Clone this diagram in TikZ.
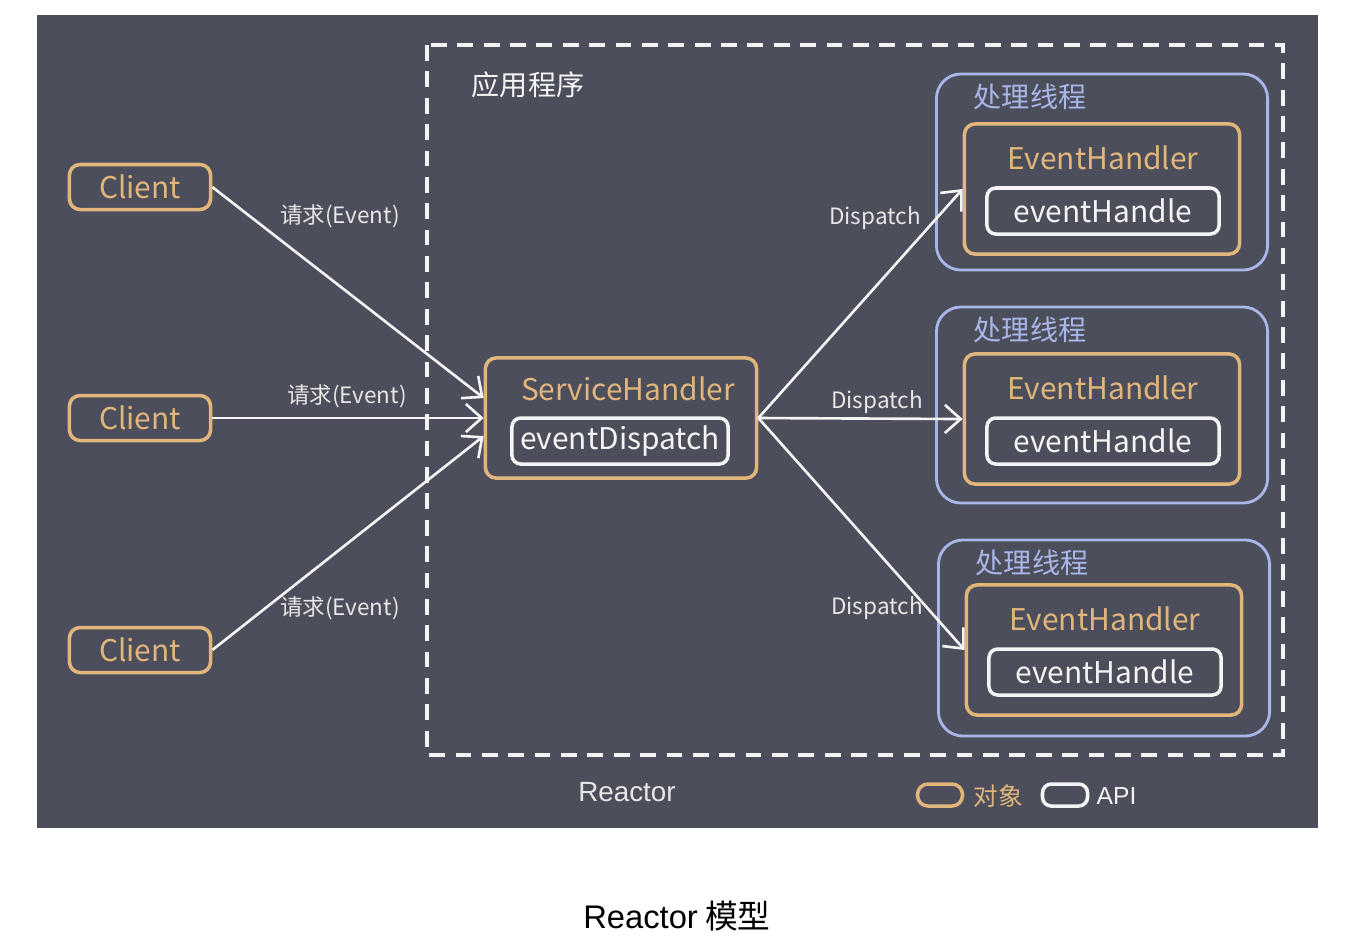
\documentclass[tikz,border=0pt]{standalone}
\usepackage{fontspec}
\setmainfont{Noto Sans CJK SC}
\newfontfamily\arialfont{Liberation Sans}
\usetikzlibrary{arrows.meta}

\definecolor{bgdark}{HTML}{4C4F5B}
\definecolor{objorange}{HTML}{E2B57B}
\definecolor{threadblue}{HTML}{A9B7E8}
\definecolor{apiwhite}{HTML}{F4F4F4}
\definecolor{labelgray}{HTML}{E6E6E6}

\tikzset{
  objbox/.style={draw=objorange, line width=1pt, rounded corners=3pt},
  apibox/.style={draw=apiwhite, line width=1pt, rounded corners=2.5pt},
  threadbox/.style={draw=threadblue, line width=0.8pt, rounded corners=7pt},
  flow/.style={draw=apiwhite, line width=0.75pt, -{Straight Barb[length=4.5pt,width=8pt,line width=0.75pt]}},
  flowlabel/.style={text=labelgray, font=\fontsize{6.4}{7}\selectfont, inner sep=0pt}
}

\begin{document}
\begin{tikzpicture}[x=0.01cm, y=-0.01cm]

\useasboundingbox (0,0) rectangle (1364,950);
\fill[white] (0,0) rectangle (1364,950);
\fill[bgdark] (37,15) rectangle (1318,828);

% Le cadre de l'application
\draw[apiwhite, line width=0.9pt, dash pattern=on 4.5pt off 3pt] (427,45) rectangle (1283,755);
\node[text=apiwhite, font=\fontsize{8}{9}\selectfont] (app) at (528,85) {应用程序};

% Les clients
\foreach \y [count=\ci] in {187,418,650}
\node[objbox, minimum width=1.41cm, minimum height=0.45cm, text=objorange,
      font=\fontsize{8.5}{10}\selectfont, inner sep=0pt] (client\ci) at (140,\y) {Client};

% Le ServiceHandler
\node[objbox, minimum width=2.71cm, minimum height=1.2cm] (sh) at (621,418) {};
\node[text=objorange, font=\fontsize{8.5}{10}\selectfont, inner sep=0pt] (shname) at (628,389) {ServiceHandler};
\node[apibox, minimum width=2.16cm, minimum height=0.46cm, text=apiwhite,
      font=\fontsize{8.5}{10}\selectfont, inner sep=0pt] (dispatch) at (620,441) {eventDispatch};

% Les threads de traitement
\foreach \x/\y/\e/\h [count=\ti] in {1102/172/189/211, 1102/405/419/441, 1104/638/650/672}
{
\node[threadbox, minimum width=3.31cm, minimum height=1.96cm] (thread\ti) at (\x,\y) {};
\node[text=threadblue, font=\fontsize{8}{9}\selectfont, inner sep=0pt] (tname\ti) at (\x-72,\y-75) {处理线程};
\node[objbox, minimum width=2.75cm, minimum height=1.3cm] (eh\ti) at (\x,\e) {};
\node[text=objorange, font=\fontsize{8.5}{10}\selectfont, inner sep=0pt] (ehname\ti) at (\x+1,\e-31) {EventHandler};
\node[apibox, minimum width=2.32cm, minimum height=0.46cm, text=apiwhite,
      font=\fontsize{8.5}{10}\selectfont, inner sep=0pt] (handle\ti) at (\x+1,\h) {eventHandle};
}

% Les requêtes
\draw[flow] (client1.east) -- ([yshift=0.2cm]sh.west);
\draw[flow] (client2.east) -- (sh.west);
\draw[flow] (client3.east) -- ([yshift=-0.18cm]sh.west);
\node[flowlabel] (req1) at (340,216) {请求(Event)};
\node[flowlabel] (req2) at (347,396) {请求(Event)};
\node[flowlabel] (req3) at (340,608) {请求(Event)};

% Les dispatch
\foreach \ti in {1,2,3}
\draw[flow] (sh.east) -- (eh\ti.west);
\node[flowlabel] (disp1) at (875,218) {Dispatch};
\node[flowlabel] (disp2) at (877,402) {Dispatch};
\node[flowlabel] (disp3) at (877,608) {Dispatch};

% La légende
\node[text=labelgray, font=\arialfont\fontsize{7.9}{9}\selectfont, inner sep=0pt] (reactor) at (627,792) {Reactor};
\node[objbox, minimum width=0.45cm, minimum height=0.22cm, inner sep=0pt] (legobj) at (940,795) {};
\node[text=objorange, font=\fontsize{7}{8}\selectfont, inner sep=0pt, right=0.1cm] (legobjtext) at (963,796) {对象};
\node[apibox, minimum width=0.45cm, minimum height=0.22cm, inner sep=0pt] (legapi) at (1065,795) {};
\node[text=apiwhite, font=\arialfont\fontsize{7}{8}\selectfont, inner sep=0pt, right=0.08cm] (legapitext) at (1088,796) {API};

% La légende sous la figure
\node[text=black, font=\fontsize{9.3}{11}\selectfont, inner sep=0pt] (caption) at (677,916) {{\arialfont Reactor} 模型};

\end{tikzpicture}
\end{document}
